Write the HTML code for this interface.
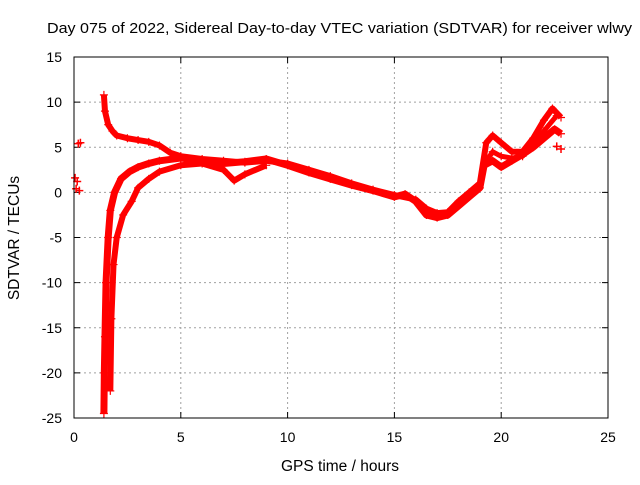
<!DOCTYPE html>
<html><head><meta charset="utf-8"><style>
body{margin:0;background:#fff;font-family:"Liberation Sans",sans-serif;}
svg text{font-family:"Liberation Sans",sans-serif;font-size:14px;fill:#000;}
</style></head><body>
<svg id="chart" width="640" height="480" xmlns="http://www.w3.org/2000/svg">
<rect width="640" height="480" fill="#fff"/>
<text x="47" y="33" textLength="585" lengthAdjust="spacingAndGlyphs" style="font-size:15px">Day 075 of 2022, Sidereal Day-to-day VTEC variation (SDTVAR) for receiver wlwy</text>
<text x="340" y="471" text-anchor="middle" style="font-size:15.5px">GPS time / hours</text>
<text transform="translate(19,238) rotate(-90)" text-anchor="middle" style="font-size:15.5px">SDTVAR / TECUs</text>
<g id="grid"></g>
<g id="ticks"></g>
<g id="series"></g>
<rect x="74" y="57" width="534" height="361" fill="none" stroke="#000" stroke-width="1"/>
</svg>
<script>
const xTicks=[0,5,10,15,20,25];
const yTicks=[15,10,5,0,-5,-10,-15,-20,-25];
const trackA=[[1.4,10.8],[1.45,9],[1.6,7.5],[1.8,6.8],[2,6.3],[2.5,6],[3,5.8],[3.5,5.6],[4,5.2],[4.5,4.4],[5,4],[6,3.7],[7,3.5],[8,3.3],[9,3.5],[10,3.2],[11,2.5],[12,1.8],[13,1],[14,0.3],[15,-0.3],[16,-0.8],[16.5,-1.8],[17,-2.3],[17.5,-2.2],[18,-1],[18.5,0],[19,1],[19.3,5.5],[19.6,6.3],[20,5.5],[20.5,4.5],[21,4.5],[21.5,6],[22,8],[22.4,9.3],[22.8,8.3]];
const trackB=[[1.4,-24.5],[1.42,-20],[1.45,-16],[1.5,-10],[1.6,-5],[1.7,-2],[1.9,0],[2.2,1.5],[2.6,2.3],[3,2.8],[3.5,3.2],[4,3.5],[5,3.8],[6,3.5],[7,3.2],[8,3.4],[9,3.7],[10,3],[11,2.2],[12,1.5],[13,0.8],[14,0.2],[15,-0.5],[15.5,-0.2],[16,-1],[16.5,-2.5],[17,-2.8],[17.5,-2.5],[18,-1.5],[18.5,-0.5],[19,0.5],[19.2,3],[19.6,3.5],[20,2.8],[20.5,3.5],[21,4.2],[21.5,5],[22,6],[22.5,7],[22.8,6.5]];
const trackC=[[1.7,-22],[1.75,-14],[1.85,-8],[2,-5],[2.3,-2.5],[2.7,-1],[3,0.5],[3.5,1.5],[4,2.3],[5,3],[6,3.2],[7,2.5],[7.5,1.3],[8,2],[9,3]];
const trackD=[[19.3,3.5],[19.6,4.5],[20,4],[20.5,3.8],[21,4],[21.5,5.2],[22,6.8],[22.6,8.5]];
const clusterPts=[[0.05,1.6],[0.15,1.2],[0.1,0.4],[0.25,0.2],[0.3,5.5],[0.2,5.4],[22.6,5.1],[22.8,4.8]];
const X0=74,X1=608,Y0=57,Y1=418;
const sx=v=>X0+(v-0)/(25-0)*(X1-X0);
const sy=v=>Y0+(15-v)/(15-(-25))*(Y1-Y0);
const NS="http://www.w3.org/2000/svg";
function mk(t,a,p){const e=document.createElementNS(NS,t);for(const k in a)e.setAttribute(k,a[k]);p.appendChild(e);return e;}
const grid=document.getElementById('grid'),ticks=document.getElementById('ticks'),ser=document.getElementById('series');
xTicks.forEach(t=>{const x=sx(t);
 if(t>0&&t<25){const g=mk('line',{x1:x,x2:x,y1:Y0,y2:Y1,stroke:'#a0a0a0','stroke-dasharray':'2,3'},grid);}
 mk('line',{x1:x,x2:x,y1:Y1,y2:Y1-6,stroke:'#000'},ticks);mk('line',{x1:x,x2:x,y1:Y0,y2:Y0+6,stroke:'#000'},ticks);
 const tx=mk('text',{x:x,y:Y1+24,'text-anchor':'middle'},ticks);tx.textContent=t;
 });
yTicks.forEach(t=>{const y=sy(t);
 if(t<15&&t>-25){const g=mk('line',{x1:X0,x2:X1,y1:y,y2:y,stroke:'#a0a0a0','stroke-dasharray':'2,3'},grid);}
 mk('line',{x1:X0,x2:X0+6,y1:y,y2:y,stroke:'#000'},ticks);mk('line',{x1:X1,x2:X1-6,y1:y,y2:y,stroke:'#000'},ticks);
 const tx=mk('text',{x:X0-12,y:y+5,'text-anchor':'end'},ticks);tx.textContent=t;
 });
function drawTrack(pts,name,w){
 const pl=mk('polyline',{points:pts.map(p=>sx(p[0])+','+sy(p[1])).join(' '),fill:'none',stroke:'#f00','stroke-width':w,'stroke-linejoin':'round'},ser);
 
 pts.forEach(p=>{const x=sx(p[0]),y=sy(p[1]);
  const m=mk('path',{d:`M${x-4},${y}H${x+4}M${x},${y-4}V${y+4}`,stroke:'#f00','stroke-width':1.2},ser);
  });
}
drawTrack(trackA,'track-a',6);
drawTrack(trackB,'track-b',7);
drawTrack(trackC,'track-c',6);
drawTrack(trackD,'track-d',5);
clusterPts.forEach(p=>{const x=sx(p[0]),y=sy(p[1]);
 const m=mk('path',{d:`M${x-4},${y}H${x+4}M${x},${y-4}V${y+4}`,stroke:'#f00','stroke-width':1.5},ser);
 });
</script>
</body></html>
